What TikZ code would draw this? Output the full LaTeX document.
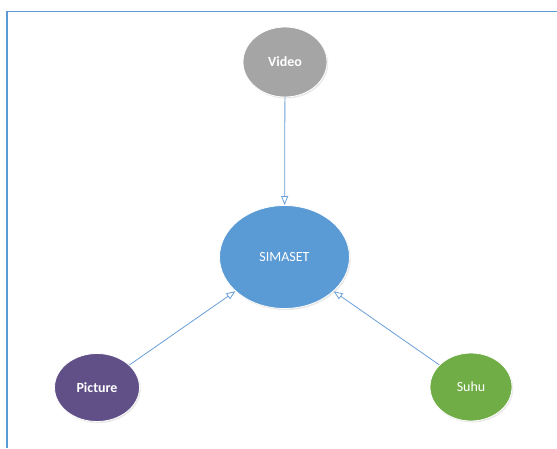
\documentclass[tikz,border=0pt]{standalone}
\usepackage{fontspec}
\setmainfont{Carlito}
\usetikzlibrary{arrows.meta,shadows,shapes.geometric}
\definecolor{frameblue}{HTML}{5B9BD5}
\definecolor{linkblue}{HTML}{6A9FD8}
\definecolor{grayfill}{HTML}{A5A5A5}
\definecolor{bluefill}{HTML}{5B9BD5}
\definecolor{purplefill}{HTML}{605087}
\definecolor{greenfill}{HTML}{70AD47}
\tikzset{
  bubble/.style={ellipse, draw=white, line width=0.8pt, text=white,
    font=\fontsize{14}{16}\selectfont, inner sep=0pt,
    drop shadow={opacity=0.18, shadow xshift=1.2pt, shadow yshift=-1.5pt}},
  boldbubble/.style={bubble, font=\fontsize{14}{16}\selectfont\bfseries},
  link/.style={draw=linkblue, line width=0.8pt,
    -{Triangle[open, length=9pt, width=7pt]}}
}
\begin{document}
\begin{tikzpicture}[x=1pt, y=-1pt]
  \useasboundingbox (0,0) rectangle (557,448);
  \fill[white] (0,0) rectangle (557,448);
  % page frame
  \draw[frameblue, line width=1.2pt] (7,448) -- (7,11.5) -- (557,11.5);
  % nodes
  \node[boldbubble, fill=grayfill, minimum width=84pt, minimum height=70pt] (vid) at (285,62) {Video};
  \node[bubble, fill=bluefill, minimum width=130pt, minimum height=103pt] (sim) at (284.5,257) {SIMASET};
  \node[boldbubble, fill=purplefill, minimum width=85pt, minimum height=68pt] (pic) at (97,387.5) {Picture};
  \node[bubble, fill=greenfill, minimum width=82pt, minimum height=68pt] (suh) at (471,387) {Suhu};
  % connectors
  \draw[link] (vid) -- (sim);
  \draw[link] (pic) -- (sim);
  \draw[link] (suh) -- (sim);
\end{tikzpicture}
\end{document}
